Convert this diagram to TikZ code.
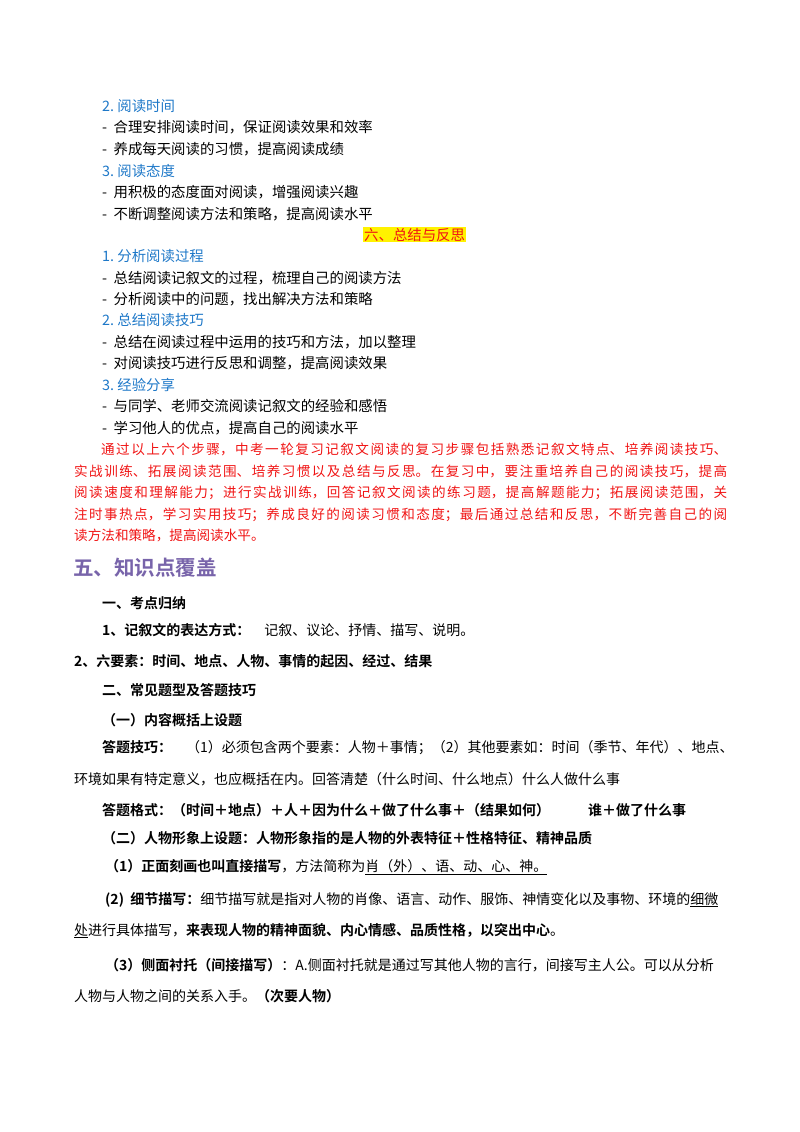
\documentclass[tikz,border=0pt]{standalone}
\usepackage{fontspec}
\setmainfont{Noto Sans CJK SC}[BoldFont={* Bold}]
\XeTeXlinebreaklocale "zh"
\XeTeXlinebreakskip=0pt plus 2pt
\definecolor{blu}{RGB}{30,120,200}
\definecolor{rd}{RGB}{240,20,20}
\definecolor{pur}{RGB}{120,100,170}
\begin{document}
\begin{tikzpicture}[x=1pt,y=-1pt,
  t/.style={anchor=base west,inner sep=0pt,font=\fontsize{14.4}{16}\selectfont},
  h/.style={t,text=blu},
  b/.style={anchor=base west,inner sep=0pt,font=\fontsize{14}{16}\selectfont},
  bb/.style={b,font=\fontsize{14}{16}\selectfont\bfseries}]
\useasboundingbox (0,0) rectangle (800,1132);
\node[h] (a1) at (102,111) {2.\ 阅读时间};
\node[t] (a2) at (102,132) {- \ 合理安排阅读时间，保证阅读效果和效率};
\node[t] (a3) at (102,154) {- \ 养成每天阅读的习惯，提高阅读成绩};
\node[h] (a4) at (102,176) {3.\ 阅读态度};
\node[t] (a5) at (102,197) {- \ 用积极的态度面对阅读，增强阅读兴趣};
\node[t] (a6) at (102,219) {- \ 不断调整阅读方法和策略，提高阅读水平};
\node[t,text=rd,fill=yellow,inner sep=1pt] (a7) at (363,240) {六、总结与反思};
\node[h] (a8) at (102,261) {1.\ 分析阅读过程};
\node[t] (a9) at (102,283) {- \ 总结阅读记叙文的过程，梳理自己的阅读方法};
\node[t] (a10) at (102,304) {- \ 分析阅读中的问题，找出解决方法和策略};
\node[h] (a11) at (102,325) {2.\ 总结阅读技巧};
\node[t] (a12) at (102,347) {- \ 总结在阅读过程中运用的技巧和方法，加以整理};
\node[t] (a13) at (102,368) {- \ 对阅读技巧进行反思和调整，提高阅读效果};
\node[h] (a14) at (102,390) {3.\ 经验分享};
\node[t] (a15) at (102,411) {- \ 与同学、老师交流阅读记叙文的经验和感悟};
\node[t] (a16) at (102,433) {- \ 学习他人的优点，提高自己的阅读水平};
\node[t,anchor=north west,text=rd,text width=653pt,align=justify,font=\fontsize{13.6}{21.5}\selectfont] (p) at (74,443)
{\hspace*{27pt}通过以上六个步骤，中考一轮复习记叙文阅读的复习步骤包括熟悉记叙文特点、培养阅读技巧、\linebreak
实战训练、拓展阅读范围、培养习惯以及总结与反思。在复习中，要注重培养自己的阅读技巧，提高\linebreak
阅读速度和理解能力；进行实战训练，回答记叙文阅读的练习题，提高解题能力；拓展阅读范围，关\linebreak
注时事热点，学习实用技巧；养成良好的阅读习惯和态度；最后通过总结和反思，不断完善自己的阅\linebreak
读方法和策略，提高阅读水平。};
\node[anchor=base west,inner sep=0pt,text=pur,font=\fontsize{20.5}{24}\selectfont\bfseries] (s) at (73,575) {五、知识点覆盖};
\node[bb] (b1) at (102,608) {一、考点归纳};
\node[b] (b2) at (102,635) {\textbf{1、记叙文的表达方式：}\quad 记叙、议论、抒情、描写、说明。};
\node[bb] (b3) at (74,666) {2、六要素：时间、地点、人物、事情的起因、经过、结果};
\node[bb] (b4) at (102,695) {二、常见题型及答题技巧};
\node[bb] (b5) at (102,725) {（一）内容概括上设题};
\node[b] (b6) at (102,752) {\textbf{答题技巧：}\quad（1）必须包含两个要素：人物＋事情；（2）其他要素如：时间（季节、年代）、地点、};
\node[b] (b7) at (74,784) {环境如果有特定意义，也应概括在内。回答清楚（什么时间、什么地点）什么人做什么事};
\node[bb] (b8) at (102,815) {答题格式：（时间＋地点）＋人＋因为什么＋做了什么事＋（结果如何）};
\node[bb] (b9) at (588,815) {谁＋做了什么事};
\node[bb] (b10) at (102,843) {（二）人物形象上设题：人物形象指的是人物的外表特征＋性格特征、精神品质};
\node[b] (b11) at (105,871) {\textbf{（1）正面刻画也叫直接描写}，方法简称为\underline{肖（外）、语、动、心、神。}};
\node[b] (b12) at (105,904) {\textbf{(2) \ 细节描写：}细节描写就是指对人物的肖像、语言、动作、服饰、神情变化以及事物、环境的\underline{细微}};
\node[b] (b13) at (74,935) {\underline{处}进行具体描写，\textbf{来表现人物的精神面貌、内心情感、品质性格，以突出中心}。};
\node[b] (b14) at (105,970) {\textbf{（3）侧面衬托（间接描写）}：A.侧面衬托就是通过写其他人物的言行，间接写主人公。可以从分析};
\node[b] (b15) at (74,1001) {人物与人物之间的关系入手。\textbf{（次要人物）}};
\end{tikzpicture}
\end{document}
